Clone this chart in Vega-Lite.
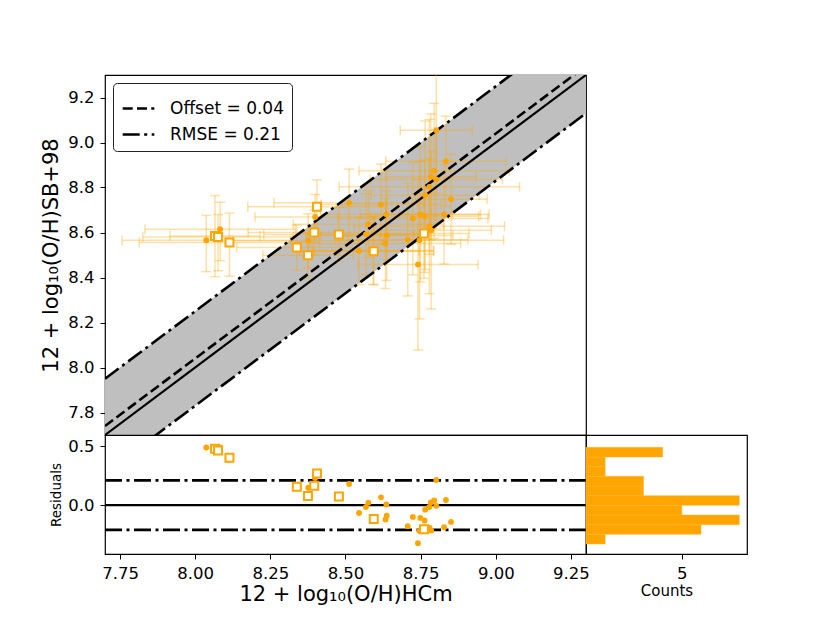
{
"$schema": "https://vega.github.io/schema/vega-lite/v6.json",
"autosize": {"type": "pad"},
"padding": {"left": 40, "top": 74, "right": 0, "bottom": 0},
"background": "white",
"bounds": "flush",
"spacing": 0,
"datasets": {
"pts": [
{"t":"c","x":8.802,"y":9.055,"res":0.213,"xlo":8.682,"xhi":8.922,"ylo":8.775,"yhi":9.335},
{"t":"c","x":8.834,"y":8.917,"res":0.043,"xlo":8.634,"xhi":9.034,"ylo":8.717,"yhi":9.117},
{"t":"c","x":8.795,"y":8.874,"res":0.039,"xlo":8.545,"xhi":9.045,"ylo":8.574,"yhi":9.174},
{"t":"c","x":8.784,"y":8.847,"res":0.023,"xlo":8.634,"xhi":8.934,"ylo":8.567,"yhi":9.127},
{"t":"c","x":8.802,"y":8.836,"res":-0.006,"xlo":8.582,"xhi":9.022,"ylo":8.616,"yhi":9.056},
{"t":"c","x":8.779,"y":8.803,"res":-0.016,"xlo":8.479,"xhi":9.079,"ylo":8.503,"yhi":9.103},
{"t":"c","x":8.765,"y":8.766,"res":-0.039,"xlo":8.585,"xhi":8.945,"ylo":8.436,"yhi":9.096},
{"t":"c","x":8.851,"y":8.748,"res":-0.143,"xlo":8.731,"xhi":8.971,"ylo":8.548,"yhi":8.948},
{"t":"c","x":8.512,"y":8.732,"res":0.18,"xlo":8.262,"xhi":8.762,"ylo":8.582,"yhi":8.882},
{"t":"c","x":8.618,"y":8.724,"res":0.066,"xlo":8.418,"xhi":8.818,"ylo":8.544,"yhi":8.904},
{"t":"c","x":8.636,"y":8.681,"res":0.005,"xlo":8.416,"xhi":8.856,"ylo":8.481,"yhi":8.881},
{"t":"c","x":8.724,"y":8.662,"res":-0.10,"xlo":8.474,"xhi":8.974,"ylo":8.412,"yhi":8.912},
{"t":"c","x":8.749,"y":8.680,"res":-0.109,"xlo":8.549,"xhi":8.949,"ylo":8.38,"yhi":8.98},
{"t":"c","x":8.763,"y":8.672,"res":-0.131,"xlo":8.583,"xhi":8.943,"ylo":8.422,"yhi":8.922},
{"t":"c","x":8.828,"y":8.680,"res":-0.188,"xlo":8.678,"xhi":8.978,"ylo":8.46,"yhi":8.9},
{"t":"c","x":8.576,"y":8.637,"res":0.021,"xlo":8.326,"xhi":8.826,"ylo":8.487,"yhi":8.787},
{"t":"c","x":8.568,"y":8.592,"res":-0.016,"xlo":8.368,"xhi":8.768,"ylo":8.412,"yhi":8.772},
{"t":"c","x":8.637,"y":8.587,"res":-0.09,"xlo":8.417,"xhi":8.857,"ylo":8.387,"yhi":8.787},
{"t":"c","x":8.779,"y":8.628,"res":-0.191,"xlo":8.529,"xhi":9.029,"ylo":8.328,"yhi":8.928},
{"t":"c","x":8.785,"y":8.610,"res":-0.215,"xlo":8.585,"xhi":8.985,"ylo":8.26,"yhi":8.96},
{"t":"c","x":8.707,"y":8.568,"res":-0.179,"xlo":8.507,"xhi":8.907,"ylo":8.318,"yhi":8.818},
{"t":"c","x":8.746,"y":8.566,"res":-0.22,"xlo":8.466,"xhi":9.026,"ylo":8.216,"yhi":8.916},
{"t":"c","x":8.633,"y":8.551,"res":-0.122,"xlo":8.383,"xhi":8.883,"ylo":8.351,"yhi":8.751},
{"t":"c","x":8.545,"y":8.518,"res":-0.067,"xlo":8.345,"xhi":8.745,"ylo":8.368,"yhi":8.668},
{"t":"c","x":8.741,"y":8.458,"res":-0.323,"xlo":8.541,"xhi":8.941,"ylo":8.078,"yhi":8.838},
{"t":"c","x":8.037,"y":8.566,"res":0.489,"xlo":7.757,"xhi":8.317,"ylo":8.426,"yhi":8.676},
{"t":"c","x":8.083,"y":8.615,"res":0.49,"xlo":7.833,"xhi":8.333,"ylo":8.475,"yhi":8.735},
{"t":"c","x":8.376,"y":8.563,"res":0.147,"xlo":8.126,"xhi":8.626,"ylo":8.443,"yhi":8.683},
{"t":"c","x":8.399,"y":8.669,"res":0.23,"xlo":8.199,"xhi":8.599,"ylo":8.569,"yhi":8.769},
{"t":"c","x":8.592,"y":8.520,"res":-0.112,"xlo":8.392,"xhi":8.792,"ylo":8.37,"yhi":8.67},
{"t":"s","x":8.066,"y":8.584,"res":0.478,"xlo":7.916,"xhi":8.216,"ylo":8.404,"yhi":8.764},
{"t":"s","x":8.076,"y":8.580,"res":0.464,"xlo":7.826,"xhi":8.326,"ylo":8.43,"yhi":8.68},
{"t":"s","x":8.114,"y":8.556,"res":0.402,"xlo":7.814,"xhi":8.414,"ylo":8.406,"yhi":8.686},
{"t":"s","x":8.405,"y":8.714,"res":0.269,"xlo":8.175,"xhi":8.635,"ylo":8.594,"yhi":8.834},
{"t":"s","x":8.396,"y":8.600,"res":0.164,"xlo":8.176,"xhi":8.616,"ylo":8.5,"yhi":8.7},
{"t":"s","x":8.338,"y":8.533,"res":0.155,"xlo":8.138,"xhi":8.538,"ylo":8.433,"yhi":8.633},
{"t":"s","x":8.375,"y":8.499,"res":0.078,"xlo":8.225,"xhi":8.525,"ylo":8.399,"yhi":8.599},
{"t":"s","x":8.478,"y":8.591,"res":0.073,"xlo":8.228,"xhi":8.728,"ylo":8.471,"yhi":8.711},
{"t":"s","x":8.594,"y":8.517,"res":-0.117,"xlo":8.394,"xhi":8.794,"ylo":8.367,"yhi":8.667},
{"t":"s","x":8.761,"y":8.596,"res":-0.205,"xlo":8.611,"xhi":8.911,"ylo":8.396,"yhi":8.796}
],
"one": [{"x":7.7,"y":7.7},{"x":9.3,"y":9.3}],
"dash": [
{"line":"off","label":"Offset = 0.04","x":7.7,"y":7.74},
{"line":"off","label":"Offset = 0.04","x":9.3,"y":9.34},
{"line":"up","label":"RMSE = 0.21","x":7.7,"y":7.95},
{"line":"up","label":"RMSE = 0.21","x":9.3,"y":9.55},
{"line":"lo","label":"RMSE = 0.21","x":7.7,"y":7.53},
{"line":"lo","label":"RMSE = 0.21","x":9.3,"y":9.13}
],
"band": [{"x":7.7,"lo":7.53,"hi":7.95},{"x":9.3,"lo":9.13,"hi":9.55}],
"rzero": [{"x":7.7,"y":0},{"x":9.3,"y":0}],
"rdash": [
{"line":"up","x":7.7,"y":0.21},{"line":"up","x":9.3,"y":0.21},
{"line":"lo","x":7.7,"y":-0.21},{"line":"lo","x":9.3,"y":-0.21}
],
"hist": [
{"lo":-0.33,"hi":-0.248,"count":1},
{"lo":-0.248,"hi":-0.166,"count":6},
{"lo":-0.166,"hi":-0.084,"count":8},
{"lo":-0.084,"hi":-0.002,"count":5},
{"lo":-0.002,"hi":0.08,"count":8},
{"lo":0.08,"hi":0.162,"count":3},
{"lo":0.162,"hi":0.244,"count":3},
{"lo":0.244,"hi":0.326,"count":1},
{"lo":0.326,"hi":0.408,"count":1},
{"lo":0.408,"hi":0.49,"count":4}
]
},
"vconcat": [
{
"width": 481, "height": 360,
"layer": [
{"data": {"name": "band"}, "mark": {"type": "area", "color": "#bfbfbf", "opacity": 1, "clip": true},
 "encoding": {
  "x": {"field": "x", "type": "quantitative", "scale": {"domain": [7.7, 9.3], "nice": false, "zero": false}, "axis": null},
  "y": {"field": "lo", "type": "quantitative", "scale": {"domain": [7.7, 9.3], "nice": false, "zero": false},
        "axis": {"values": [7.8, 8.0, 8.2, 8.4, 8.6, 8.8, 9.0, 9.2], "format": ".1f", "title": "12 + log₁₀(O/H)SB+98", "titleFontSize": 21, "titlePadding": 6}},
  "y2": {"field": "hi"}
 }},
{"data": {"name": "pts"}, "mark": {"type": "rule", "color": "#ffa500", "opacity": 0.35, "strokeWidth": 1.5, "clip": true},
 "encoding": {"x": {"field": "xlo", "type": "quantitative", "axis": null}, "x2": {"field": "xhi"}, "y": {"field": "y", "type": "quantitative"}}},
{"data": {"name": "pts"}, "mark": {"type": "rule", "color": "#ffa500", "opacity": 0.35, "strokeWidth": 1.5, "clip": true},
 "encoding": {"x": {"field": "x", "type": "quantitative", "axis": null}, "y": {"field": "ylo", "type": "quantitative"}, "y2": {"field": "yhi"}}},
{"data": {"name": "pts"}, "mark": {"type": "tick", "orient": "vertical", "size": 10, "thickness": 1.5, "color": "#ffa500", "opacity": 0.35, "clip": true},
 "encoding": {"x": {"field": "xlo", "type": "quantitative", "axis": null}, "y": {"field": "y", "type": "quantitative"}}},
{"data": {"name": "pts"}, "mark": {"type": "tick", "orient": "vertical", "size": 10, "thickness": 1.5, "color": "#ffa500", "opacity": 0.35, "clip": true},
 "encoding": {"x": {"field": "xhi", "type": "quantitative", "axis": null}, "y": {"field": "y", "type": "quantitative"}}},
{"data": {"name": "pts"}, "mark": {"type": "tick", "orient": "horizontal", "size": 10, "thickness": 1.5, "color": "#ffa500", "opacity": 0.35, "clip": true},
 "encoding": {"x": {"field": "x", "type": "quantitative", "axis": null}, "y": {"field": "ylo", "type": "quantitative"}}},
{"data": {"name": "pts"}, "mark": {"type": "tick", "orient": "horizontal", "size": 10, "thickness": 1.5, "color": "#ffa500", "opacity": 0.35, "clip": true},
 "encoding": {"x": {"field": "x", "type": "quantitative", "axis": null}, "y": {"field": "yhi", "type": "quantitative"}}},
{"data": {"name": "one"}, "mark": {"type": "line", "color": "black", "strokeWidth": 2.2, "clip": true},
 "encoding": {"x": {"field": "x", "type": "quantitative", "axis": null}, "y": {"field": "y", "type": "quantitative"}}},
{"data": {"name": "dash"}, "mark": {"type": "line", "color": "black", "strokeWidth": 2.6, "clip": true},
 "encoding": {
  "x": {"field": "x", "type": "quantitative", "axis": null},
  "y": {"field": "y", "type": "quantitative"},
  "detail": {"field": "line", "type": "nominal"},
  "strokeDash": {"field": "label", "type": "nominal",
    "scale": {"domain": ["Offset = 0.04", "RMSE = 0.21"], "range": [[10, 4.3], [17, 4.5, 3, 4.5]]},
    "legend": {"title": null, "orient": "top-left", "offset": 8, "labelFontSize": 17, "labelFont": "DejaVu Sans", "labelColor": "black",
       "symbolType": "stroke", "symbolStrokeWidth": 2.6, "symbolStrokeColor": "black", "symbolSize": 1000,
       "strokeColor": "#222", "fillColor": "white", "padding": 8, "cornerRadius": 4, "rowPadding": 0, "labelOffset": 14}}
 }},
{"data": {"name": "pts"}, "transform": [{"filter": "datum.t == 'c'"}], "mark": {"type": "circle", "color": "#ffa500", "size": 34, "opacity": 1},
 "encoding": {"x": {"field": "x", "type": "quantitative", "axis": null}, "y": {"field": "y", "type": "quantitative"}}},
{"data": {"name": "pts"}, "transform": [{"filter": "datum.t == 's'"}], "mark": {"type": "square", "fill": "white", "stroke": "#ffa500", "strokeWidth": 2, "size": 64, "opacity": 1},
 "encoding": {"x": {"field": "x", "type": "quantitative", "axis": null}, "y": {"field": "y", "type": "quantitative"}}}
]
},
{
"hconcat": [
{
"width": 481, "height": 119,
"layer": [
{"data": {"name": "rzero"}, "mark": {"type": "line", "color": "black", "strokeWidth": 2.2, "clip": true},
 "encoding": {
  "x": {"field": "x", "type": "quantitative", "scale": {"domain": [7.7, 9.3], "nice": false, "zero": false},
        "axis": {"values": [7.75, 8.0, 8.25, 8.5, 8.75, 9.0, 9.25], "format": ".2f", "title": "12 + log₁₀(O/H)HCm", "titleFontSize": 21, "titlePadding": 2}},
  "y": {"field": "y", "type": "quantitative", "scale": {"domain": [-0.415, 0.595], "nice": false, "zero": false},
        "axis": {"values": [0, 0.5], "format": ".1f", "title": "Residuals", "titleFontSize": 13.5, "titlePadding": 4}}
 }},
{"data": {"name": "rdash"}, "mark": {"type": "line", "color": "black", "strokeWidth": 2.6, "strokeDash": [17, 4.5, 3, 4.5], "clip": true},
 "encoding": {"x": {"field": "x", "type": "quantitative"}, "y": {"field": "y", "type": "quantitative"}, "detail": {"field": "line", "type": "nominal"}}},
{"data": {"name": "pts"}, "transform": [{"filter": "datum.t == 'c'"}], "mark": {"type": "circle", "color": "#ffa500", "size": 34, "opacity": 1},
 "encoding": {"x": {"field": "x", "type": "quantitative"}, "y": {"field": "res", "type": "quantitative"}}},
{"data": {"name": "pts"}, "transform": [{"filter": "datum.t == 's'"}], "mark": {"type": "square", "fill": "white", "stroke": "#ffa500", "strokeWidth": 2, "size": 64, "opacity": 1},
 "encoding": {"x": {"field": "x", "type": "quantitative"}, "y": {"field": "res", "type": "quantitative"}}}
]
},
{
"width": 161, "height": 119,
"data": {"name": "hist"},
"mark": {"type": "bar", "color": "#ffa500", "stroke": "#ffb733", "strokeWidth": 0.5},
"encoding": {
 "y": {"field": "lo", "type": "quantitative", "scale": {"domain": [-0.415, 0.595], "nice": false, "zero": false}, "axis": null},
 "y2": {"field": "hi"},
 "x": {"field": "count", "type": "quantitative", "scale": {"domain": [0, 8.4], "nice": false}, "axis": {"values": [5], "title": "Counts", "titleFontSize": 15, "titlePadding": 2}},
 "x2": {"datum": 0}
}
}
],
"spacing": 0,
"bounds": "flush"
}
],
"config": {
 "view": {"stroke": "black", "strokeWidth": 1.2},
 "font": "DejaVu Sans",
 "axis": {"grid": false, "labelFont": "DejaVu Sans", "titleFont": "DejaVu Sans", "labelColor": "black", "titleColor": "black",
          "tickColor": "black", "domain": false, "labelFontSize": 16.5, "titleFontWeight": "normal", "tickSize": 5, "tickWidth": 1, "labelPadding": 6}
}
}
